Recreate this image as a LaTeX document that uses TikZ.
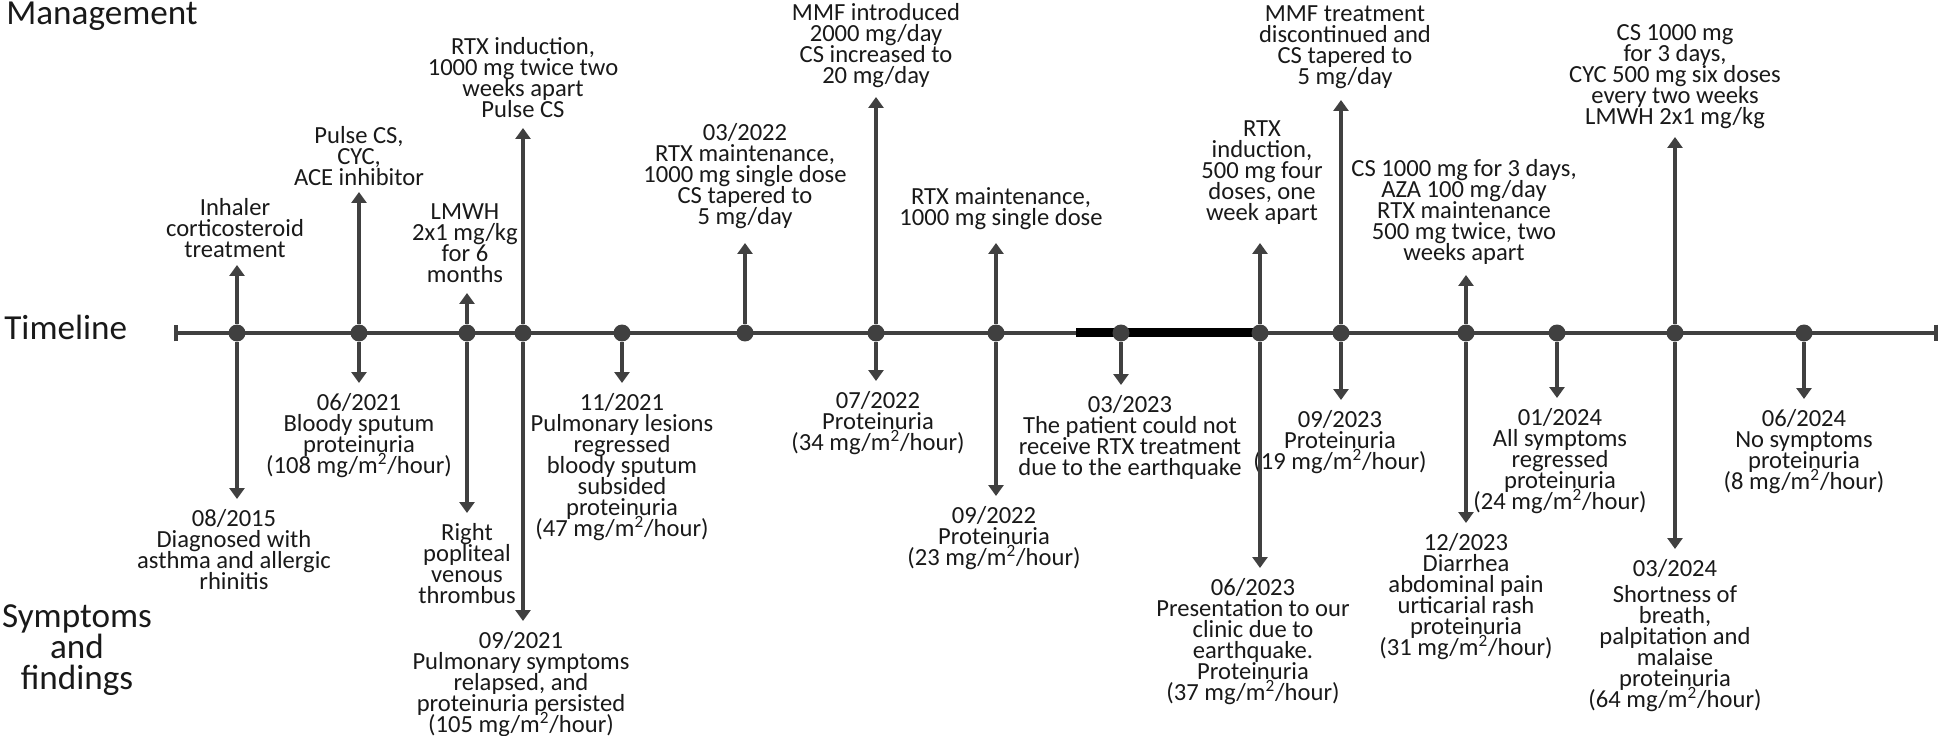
\documentclass[tikz,border=0pt]{standalone}
\usepackage{fontspec}
\setmainfont{Carlito}
\usetikzlibrary{arrows.meta}
\definecolor{linegray}{HTML}{404040}
\newcommand{\rate}[1]{(#1~mg/m\textsuperscript{2}/hour)}
\newcommand{\labfont}{\fontsize{14}{12}\selectfont\lineskiplimit-\maxdimen\relax}
\newcommand{\headfont}{\fontsize{20}{17.6}\selectfont\lineskiplimit-\maxdimen\relax}

\begin{document}
\begin{tikzpicture}[x=0.02cm, y=-0.02cm,
    dot/.style={circle, fill=linegray, inner sep=0pt, minimum size=0.34cm},
    lab/.style={align=center, inner sep=0pt, text=black!90, font=\labfont},
    up/.style={lab, anchor=south, text depth=0pt},
    down/.style={lab, anchor=north},
    head/.style={align=center, inner sep=0pt, text=black!90, font=\headfont},
    arr/.style={linegray, line width=0.075cm, -{Triangle[width=0.3cm,length=0.22cm]}, shorten >=0.2cm}]
  \useasboundingbox (0,0) rectangle (1944,736);

  % row titles
  \node[head, anchor=base west] (mgmt) at (6,25) {Management};
  \node[head, anchor=base west] (tline) at (4,340) {Timeline};
  \node[head, anchor=north] (symp) at (77,604) {Symptoms\\and\\findings};

  % the time axis
  \coordinate (t0) at (174,333);
  \coordinate (t1) at (1938,333);
  \coordinate (q0) at (1076,333);
  \coordinate (q1) at (1258,333);
  \draw[linegray, line width=0.08cm, {Bar[width=0.34cm]}-{Bar[width=0.34cm]}] (t0) -- (t1);
  \draw[black, line width=0.18cm] (q0) -- (q1);

  % management, above the axis
  \node[up] (m1) at (235,258) {Inhaler\\corticosteroid\\treatment};
  \node[up] (m2) at (359,186) {Pulse CS,\\CYC,\\ACE inhibitor};
  \node[up] (m3) at (465,283) {LMWH\\2x1 mg/kg\\for 6\\months};
  \node[up] (m4) at (523,118) {RTX induction,\\1000 mg twice two\\weeks apart\\Pulse CS};
  \node[up] (m6) at (745,225) {03/2022\\RTX maintenance,\\1000 mg single dose\\CS tapered to\\5 mg/day};
  \node[up] (m7) at (876,84) {MMF introduced\\2000 mg/day\\CS increased to\\20 mg/day};
  \node[up] (m8) at (1001,226) {RTX maintenance,\\1000 mg single dose};
  \node[up] (m10) at (1262,221) {RTX\\induction,\\500 mg four\\doses, one\\week apart};
  \node[up] (m11) at (1345,85) {MMF treatment\\discontinued and\\CS tapered to\\5 mg/day};
  \node[up] (m12) at (1464,261) {CS 1000 mg for 3 days,\\AZA 100 mg/day\\RTX maintenance\\500 mg twice, two\\weeks apart};
  \node[up] (m14) at (1675,125) {CS 1000 mg\\for 3 days,\\CYC 500 mg six doses\\every two weeks\\LMWH 2x1 mg/kg};

  % symptoms and findings, below the axis
  \node[down] (s1) at (234,509) {08/2015\\Diagnosed with\\asthma and allergic\\rhinitis};
  \node[down] (s2) at (359,393) {06/2021\\Bloody sputum\\proteinuria\\\rate{108}};
  \node[down] (s3) at (467,523) {Right\\popliteal\\venous\\thrombus};
  \node[down] (s4) at (521,631) {09/2021\\Pulmonary symptoms\\relapsed, and\\proteinuria persisted\\\rate{105}};
  \node[down] (s5) at (622,393) {11/2021\\Pulmonary lesions\\regressed\\bloody sputum\\subsided\\proteinuria\\\rate{47}};
  \node[down] (s7) at (878,391) {07/2022\\Proteinuria\\\rate{34}};
  \node[down] (s8) at (994,506) {09/2022\\Proteinuria\\\rate{23}};
  \node[down] (s9) at (1130,395) {03/2023\\The patient could not\\receive RTX treatment\\due to the earthquake};
  \node[down] (s10) at (1253,578) {06/2023\\Presentation to our\\clinic due to\\earthquake.\\Proteinuria\\\rate{37}};
  \node[down] (s11) at (1340,410) {09/2023\\Proteinuria\\\rate{19}};
  \node[down] (s12) at (1466,533) {12/2023\\Diarrhea\\abdominal pain\\urticarial rash\\proteinuria\\\rate{31}};
  \node[down] (s13) at (1560,408) {01/2024\\All symptoms\\regressed\\proteinuria\\\rate{24}};
  \node[down] (s14) at (1675,559) {03/2024\\[0.1cm]Shortness of\\breath,\\palpitation and\\malaise\\proteinuria\\\rate{64}};
  \node[down] (s15) at (1804,409) {06/2024\\No symptoms\\proteinuria\\\rate{8}};

  % events on the axis
  \node[dot] (d1) at (237,333) {};
  \node[dot] (d2) at (359,333) {};
  \node[dot] (d3) at (467,333) {};
  \node[dot] (d4) at (523,333) {};
  \node[dot] (d5) at (622,333) {};
  \node[dot] (d6) at (745,333) {};
  \node[dot] (d7) at (876,333) {};
  \node[dot] (d8) at (996,333) {};
  \node[dot] (d9) at (1121,333) {};
  \node[dot] (d10) at (1260,333) {};
  \node[dot] (d11) at (1341,333) {};
  \node[dot] (d12) at (1466,333) {};
  \node[dot] (d13) at (1557,333) {};
  \node[dot] (d14) at (1675,333) {};
  \node[dot] (d15) at (1804,333) {};

  \begin{scope}[arr]
    \draw[shorten >=0.14cm] (d1) -- (m1.south -| d1);
    \draw[shorten >=0.12cm] (d2) -- (m2.south -| d2);
    \draw (d3) -- (m3.south -| d3);
    \draw (d4) -- (m4.south -| d4);
    \draw[shorten >=0.36cm] (d6) -- (m6.south -| d6);
    \draw[shorten >=0.26cm] (d7) -- (m7.south -| d7);
    \draw[shorten >=0.34cm] (d8) -- (m8.south -| d8);
    \draw[shorten >=0.44cm] (d10) -- (m10.south -| d10);
    \draw[shorten >=0.3cm] (d11) -- (m11.south -| d11);
    \draw[shorten >=0.28cm] (d12) -- (m12.south -| d12);
    \draw[shorten >=0.24cm] (d14) -- (m14.south -| d14);

    \draw (d1) -- (s1.north -| d1);
    \draw (d2) -- (s2.north -| d2);
    \draw (d3) -- (s3.north -| d3);
    \draw (d4) -- (s4.north -| d4);
    \draw (d5) -- (s5.north -| d5);
    \draw (d7) -- (s7.north -| d7);
    \draw (d8) -- (s8.north -| d8);
    \draw (d9) -- (s9.north -| d9);
    \draw (d10) -- (s10.north -| d10);
    \draw (d11) -- (s11.north -| d11);
    \draw (d12) -- (s12.north -| d12);
    \draw (d13) -- (s13.north -| d13);
    \draw (d14) -- (s14.north -| d14);
    \draw (d15) -- (s15.north -| d15);
  \end{scope}
\end{tikzpicture}
\end{document}
